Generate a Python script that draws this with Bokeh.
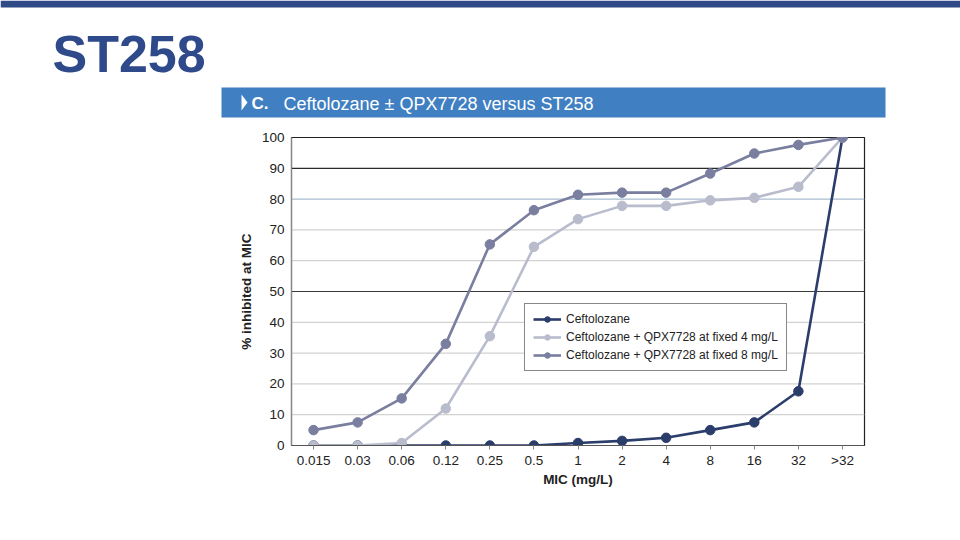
from bokeh.plotting import figure
from bokeh.models import Span, FixedTicker, Range1d, Legend
from bokeh.core.properties import value
from bokeh.embed import file_html
from bokeh.resources import INLINE

# ---- data ----
mic_labels = ["0.015", "0.03", "0.06", "0.12", "0.25", "0.5", "1", "2", "4", "8", "16", "32", ">32"]
ceftolozane = [0, 0, 0, 0, 0, 0, 0.8, 1.5, 2.5, 5, 7.5, 17.6, 100]
plus_qpx_4 = [0, 0, 0.8, 12, 35.5, 64.5, 73.5, 77.8, 77.8, 79.6, 80.4, 84, 100]
plus_qpx_8 = [5, 7.5, 15.3, 33, 65.3, 76.4, 81.4, 82.1, 82.1, 88.3, 94.8, 97.6, 100]
y_ticks = [0, 10, 20, 30, 40, 50, 60, 70, 80, 90, 100]
series_names = ["Ceftolozane",
                "Ceftolozane + QPX7728 at fixed 4 mg/L",
                "Ceftolozane + QPX7728 at fixed 8 mg/L"]
page_title = "ST258"
panel_letter = "C."
panel_title = "Ceftolozane \u00b1 QPX7728 versus ST258"
x_label = "MIC (mg/L)"
y_label = "% inhibited at MIC"

x_pos = list(range(len(mic_labels)))

FONT = "'Liberation Sans', Arial, sans-serif"
COLORS = ["#2b3d6b", "#b9bccc", "#7a7e9f"]

# ---------------- header (slide title + panel bar) ----------------
HEAD_H = 127
head = figure(width=960, height=HEAD_H, output_backend="svg", toolbar_location=None,
              x_range=Range1d(0, 960), y_range=Range1d(HEAD_H, 0),
              x_axis_type=None, y_axis_type=None, min_border=0)
head.title.visible = False
head.outline_line_color = None
head.grid.visible = False
head.background_fill_color = "white"
head.border_fill_color = "white"
head.quad(left=[0], right=[960], top=[0], bottom=[7], fill_color="#2f4a86", line_color=None)
head.quad(left=[221], right=[885], top=[87], bottom=[117], fill_color="#3f7fc2", line_color=None)
head.patch(x=[241, 247, 241], y=[94, 102, 110], fill_color="white", line_color=None)
head.text(x=[52], y=[53], text=[page_title], text_font=value(FONT), text_font_style="bold",
          text_font_size=value("52px"), text_color="#2e4a8a", text_baseline="middle")
head.text(x=[251], y=[103], text=[panel_letter], text_font=value(FONT), text_font_style="bold",
          text_font_size=value("17px"), text_color="white", text_baseline="middle")
head.text(x=[283], y=[103], text=[panel_title], text_font=value(FONT),
          text_font_size=value("18px"), text_color="white", text_baseline="middle")

# ---------------- chart ----------------
p = figure(width=944, height=397, output_backend="svg", toolbar_location=None,
           x_range=Range1d(-0.5, 12.5), y_range=Range1d(0, 100),
           min_border_left=291, min_border_right=80, min_border_top=10,
           min_border_bottom=79)
p.title.visible = False
p.background_fill_color = "white"
p.border_fill_color = "white"
p.outline_line_color = "#222222"
p.outline_line_width = 1.2
p.xgrid.visible = False
p.ygrid.visible = False

grid_colors = {10: "#d2d2d2", 20: "#d2d2d2", 30: "#d2d2d2", 40: "#d2d2d2", 50: "#3a3a3a",
               60: "#d2d2d2", 70: "#d2d2d2", 80: "#a9bdd0", 90: "#2a2a2a"}
for lvl in y_ticks[1:-1]:
    p.add_layout(Span(location=lvl, dimension="width", line_color=grid_colors[lvl],
                      line_width=1.2, level="underlay"))

xa = p.xaxis[0]
xa.ticker = FixedTicker(ticks=x_pos)
xa.major_label_overrides = {i: lab for i, lab in zip(x_pos, mic_labels)}
xa.axis_line_color = "#555555"
xa.axis_line_width = 1.2
xa.major_tick_out = 4
xa.major_tick_in = 0
xa.major_tick_line_color = "#888888"
xa.minor_tick_line_color = None
xa.major_label_standoff = 3
xa.major_label_text_font = FONT
xa.major_label_text_font_size = "13.5px"
xa.major_label_text_color = "#222222"
xa.axis_label = x_label
xa.axis_label_text_font = FONT
xa.axis_label_text_font_style = "bold"
xa.axis_label_text_font_size = "13.5px"
xa.axis_label_text_color = "#222222"
xa.axis_label_standoff = 1

ya = p.yaxis[0]
ya.ticker = FixedTicker(ticks=y_ticks)
ya.axis_line_color = "#888888"
ya.axis_line_width = 1.2
ya.major_tick_out = 0
ya.major_tick_in = 0
ya.minor_tick_line_color = None
ya.major_label_standoff = 7
ya.major_label_text_font = FONT
ya.major_label_text_font_size = "13.5px"
ya.major_label_text_color = "#222222"
ya.axis_label = y_label
ya.axis_label_text_font = FONT
ya.axis_label_text_font_style = "bold"
ya.axis_label_text_font_size = "13.5px"
ya.axis_label_text_color = "#222222"
ya.axis_label_standoff = 5

items = []
for name, vals, col in zip(series_names, [ceftolozane, plus_qpx_4, plus_qpx_8], COLORS):
    r1 = p.line(x_pos, vals, line_color=col, line_width=2.6)
    r2 = p.scatter(x_pos, vals, marker="circle", size=9.5, fill_color=col, line_color=col)
    items.append((name, [r1, r2]))

legend = Legend(items=items, location=(233, 74), orientation="vertical")
legend.border_line_color = "#111111"
legend.border_line_width = 1.2
legend.background_fill_color = "white"
legend.background_fill_alpha = 1
legend.padding = 8
legend.margin = 0
legend.spacing = 4
legend.glyph_width = 28
legend.glyph_height = 14
legend.label_height = 14
legend.label_standoff = 5
legend.label_text_font = FONT
legend.label_text_font_size = "12px"
legend.label_text_color = "#222222"
p.add_layout(legend, "center")

open("out.html", "w").write(file_html([head, p], INLINE))
